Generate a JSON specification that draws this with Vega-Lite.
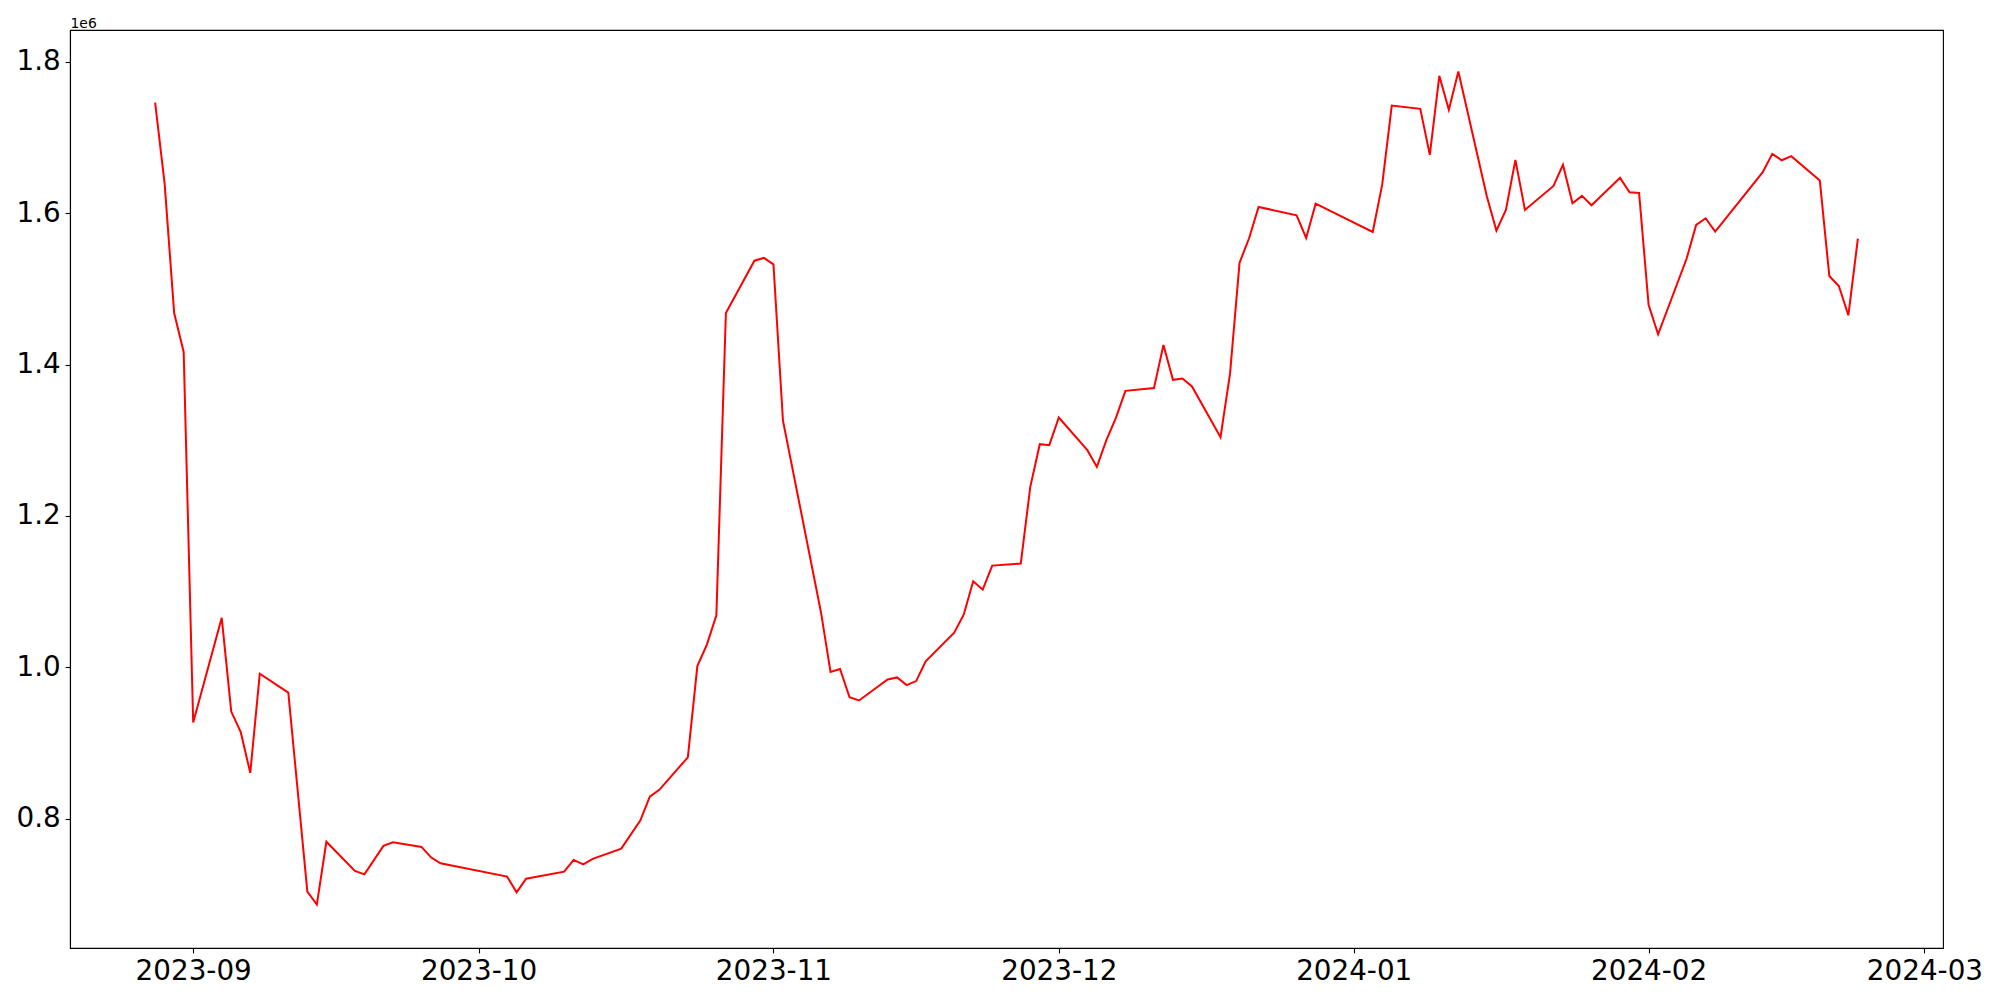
{
  "$schema": "https://vega.github.io/schema/vega-lite/v6.json",
  "autosize": {"type": "none"},
  "width": 1873,
  "height": 918,
  "padding": {"left": 70, "top": 30, "right": 57, "bottom": 52},
  "background": "white",
  "config": {
    "view": {"stroke": "black", "strokeWidth": 1.1},
    "axis": {
      "grid": false,
      "domainColor": "black",
      "domainWidth": 1.1,
      "tickColor": "black",
      "tickWidth": 1.1,
      "tickSize": 4.9,
      "labelPadding": 4.9,
      "labelFont": "DejaVu Sans",
      "labelFontSize": 27.8,
      "labelColor": "black"
    }
  },
  "data": {
    "format": {"parse": {"date": "utc:'%Y-%m-%d'"}},
    "values": [
      {"date": "2023-08-28", "value": 1746000},
      {"date": "2023-08-29", "value": 1638600},
      {"date": "2023-08-30", "value": 1468000},
      {"date": "2023-08-31", "value": 1416600},
      {"date": "2023-09-01", "value": 927000},
      {"date": "2023-09-04", "value": 1065300},
      {"date": "2023-09-05", "value": 941400},
      {"date": "2023-09-06", "value": 914200},
      {"date": "2023-09-07", "value": 860400},
      {"date": "2023-09-08", "value": 991500},
      {"date": "2023-09-11", "value": 966500},
      {"date": "2023-09-13", "value": 703600},
      {"date": "2023-09-14", "value": 686400},
      {"date": "2023-09-15", "value": 769400},
      {"date": "2023-09-18", "value": 730800},
      {"date": "2023-09-19", "value": 726300},
      {"date": "2023-09-21", "value": 763900},
      {"date": "2023-09-22", "value": 768700},
      {"date": "2023-09-25", "value": 762600},
      {"date": "2023-09-26", "value": 748800},
      {"date": "2023-09-27", "value": 740900},
      {"date": "2023-10-04", "value": 723300},
      {"date": "2023-10-05", "value": 702500},
      {"date": "2023-10-06", "value": 720600},
      {"date": "2023-10-10", "value": 729900},
      {"date": "2023-10-11", "value": 745400},
      {"date": "2023-10-12", "value": 739600},
      {"date": "2023-10-13", "value": 746700},
      {"date": "2023-10-16", "value": 760300},
      {"date": "2023-10-18", "value": 797400},
      {"date": "2023-10-19", "value": 829100},
      {"date": "2023-10-20", "value": 838000},
      {"date": "2023-10-23", "value": 881000},
      {"date": "2023-10-24", "value": 1001500},
      {"date": "2023-10-25", "value": 1029800},
      {"date": "2023-10-26", "value": 1068500},
      {"date": "2023-10-27", "value": 1468100},
      {"date": "2023-10-30", "value": 1537200},
      {"date": "2023-10-31", "value": 1540900},
      {"date": "2023-11-01", "value": 1532400},
      {"date": "2023-11-02", "value": 1325900},
      {"date": "2023-11-06", "value": 1072400},
      {"date": "2023-11-07", "value": 993900},
      {"date": "2023-11-08", "value": 997700},
      {"date": "2023-11-09", "value": 960300},
      {"date": "2023-11-10", "value": 956100},
      {"date": "2023-11-13", "value": 983900},
      {"date": "2023-11-14", "value": 986500},
      {"date": "2023-11-15", "value": 976400},
      {"date": "2023-11-16", "value": 981700},
      {"date": "2023-11-17", "value": 1007700},
      {"date": "2023-11-20", "value": 1045600},
      {"date": "2023-11-21", "value": 1069400},
      {"date": "2023-11-22", "value": 1113500},
      {"date": "2023-11-23", "value": 1102500},
      {"date": "2023-11-24", "value": 1134300},
      {"date": "2023-11-27", "value": 1136900},
      {"date": "2023-11-28", "value": 1238300},
      {"date": "2023-11-29", "value": 1294700},
      {"date": "2023-11-30", "value": 1293400},
      {"date": "2023-12-01", "value": 1330000},
      {"date": "2023-12-04", "value": 1286800},
      {"date": "2023-12-05", "value": 1264700},
      {"date": "2023-12-06", "value": 1300000},
      {"date": "2023-12-07", "value": 1329500},
      {"date": "2023-12-08", "value": 1365200},
      {"date": "2023-12-11", "value": 1368800},
      {"date": "2023-12-12", "value": 1425700},
      {"date": "2023-12-13", "value": 1379800},
      {"date": "2023-12-14", "value": 1381600},
      {"date": "2023-12-15", "value": 1371000},
      {"date": "2023-12-18", "value": 1304000},
      {"date": "2023-12-19", "value": 1388200},
      {"date": "2023-12-20", "value": 1534600},
      {"date": "2023-12-21", "value": 1566800},
      {"date": "2023-12-22", "value": 1608200},
      {"date": "2023-12-26", "value": 1597200},
      {"date": "2023-12-27", "value": 1567200},
      {"date": "2023-12-28", "value": 1612600},
      {"date": "2024-01-03", "value": 1575100},
      {"date": "2024-01-04", "value": 1638000},
      {"date": "2024-01-05", "value": 1742200},
      {"date": "2024-01-08", "value": 1737800},
      {"date": "2024-01-09", "value": 1677000},
      {"date": "2024-01-10", "value": 1781500},
      {"date": "2024-01-11", "value": 1736500},
      {"date": "2024-01-12", "value": 1787200},
      {"date": "2024-01-15", "value": 1621900},
      {"date": "2024-01-16", "value": 1576900},
      {"date": "2024-01-17", "value": 1604200},
      {"date": "2024-01-18", "value": 1670400},
      {"date": "2024-01-19", "value": 1604200},
      {"date": "2024-01-22", "value": 1636000},
      {"date": "2024-01-23", "value": 1663800},
      {"date": "2024-01-24", "value": 1613100},
      {"date": "2024-01-25", "value": 1622800},
      {"date": "2024-01-26", "value": 1610400},
      {"date": "2024-01-29", "value": 1646600},
      {"date": "2024-01-30", "value": 1627600},
      {"date": "2024-01-31", "value": 1626700},
      {"date": "2024-02-01", "value": 1479000},
      {"date": "2024-02-02", "value": 1440000},
      {"date": "2024-02-05", "value": 1540000},
      {"date": "2024-02-06", "value": 1584400},
      {"date": "2024-02-07", "value": 1593200},
      {"date": "2024-02-08", "value": 1575500},
      {"date": "2024-02-13", "value": 1654100},
      {"date": "2024-02-14", "value": 1678300},
      {"date": "2024-02-15", "value": 1669900},
      {"date": "2024-02-16", "value": 1675300},
      {"date": "2024-02-19", "value": 1643000},
      {"date": "2024-02-20", "value": 1516900},
      {"date": "2024-02-21", "value": 1503700},
      {"date": "2024-02-22", "value": 1465000},
      {"date": "2024-02-23", "value": 1566300}
    ]
  },
  "mark": {"type": "line", "color": "#ff0000", "strokeWidth": 2, "clip": true},
  "encoding": {
    "x": {
      "field": "date",
      "type": "temporal",
      "scale": {
        "type": "utc",
        "domain": [
          {"year": 2023, "month": 8, "date": 19, "hours": 1, "minutes": 12, "utc": true},
          {"year": 2024, "month": 3, "date": 2, "hours": 22, "minutes": 48, "utc": true}
        ],
        "nice": false
      },
      "axis": {
        "title": null,
        "labelExpr": "utcFormat(datum.value, '%Y-%m')",
        "labelAngle": 0,
        "values": [
          {"year": 2023, "month": 9, "date": 1, "utc": true},
          {"year": 2023, "month": 10, "date": 1, "utc": true},
          {"year": 2023, "month": 11, "date": 1, "utc": true},
          {"year": 2023, "month": 12, "date": 1, "utc": true},
          {"year": 2024, "month": 1, "date": 1, "utc": true},
          {"year": 2024, "month": 2, "date": 1, "utc": true},
          {"year": 2024, "month": 3, "date": 1, "utc": true}
        ]
      }
    },
    "y": {
      "field": "value",
      "type": "quantitative",
      "scale": {"domain": [629000, 1842000], "nice": false, "zero": false},
      "axis": {
        "title": "1e6",
        "titleAngle": 0,
        "titleX": 0,
        "titleY": -3,
        "titleAlign": "left",
        "titleBaseline": "alphabetic",
        "titleFont": "DejaVu Sans",
        "titleFontSize": 13.9,
        "titleFontWeight": "normal",
        "titleColor": "black",
        "values": [800000, 1000000, 1200000, 1400000, 1600000, 1800000],
        "labelExpr": "format(datum.value / 1000000, '.1f')"
      }
    }
  }
}
